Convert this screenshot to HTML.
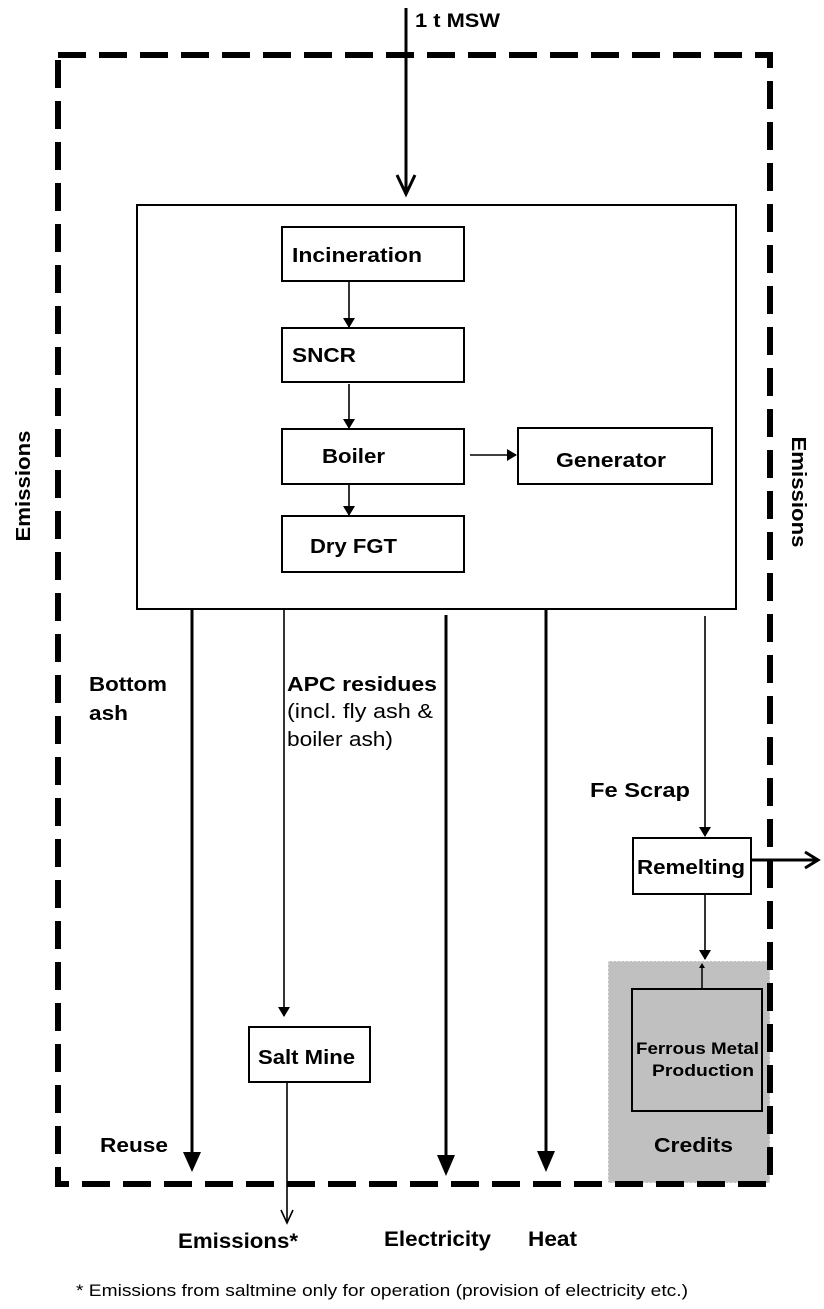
<!DOCTYPE html>
<html><head><style>
body{margin:0;background:#fff;}
svg{display:block;}
text{font-family:"Liberation Sans",Arial,sans-serif;fill:#000;}
.b{font-weight:bold;}
</style></head><body>
<svg width="824" height="1309" viewBox="0 0 824 1309" xmlns="http://www.w3.org/2000/svg">
<defs>
<marker id="big" markerWidth="10" markerHeight="12" refX="9" refY="6" orient="auto" markerUnits="userSpaceOnUse" viewBox="0 0 10 12"><path d="M0,0 L10,6 L0,12 Z" fill="#000"/></marker>
</defs>
<rect x="608" y="961" width="162" height="222" fill="#c0c0c0" stroke="#fff" stroke-dasharray="2,2" stroke-width="1"/>
<rect x="58" y="55" width="712" height="1129" fill="none" stroke="#000" stroke-width="6" stroke-dasharray="28,13"/>
<line x1="406" y1="8" x2="406" y2="192" stroke="#000" stroke-width="3"/>
<polyline points="397,175 406,194 415,175" fill="none" stroke="#000" stroke-width="3"/>
<text x="415" y="27" class="b" font-size="19" textLength="85" lengthAdjust="spacingAndGlyphs">1 t MSW</text>
<rect x="137" y="205" width="599" height="404" fill="#fff" stroke="#000" stroke-width="2"/>
<g fill="#fff" stroke="#000" stroke-width="2">
<rect x="282" y="227" width="182" height="54"/>
<rect x="282" y="328" width="182" height="54"/>
<rect x="282" y="429" width="182" height="55"/>
<rect x="282" y="516" width="182" height="56"/>
<rect x="518" y="428" width="194" height="56"/>
<rect x="633" y="838" width="118" height="56"/>
<rect x="249" y="1027" width="121" height="55"/>
</g>
<rect x="632" y="989" width="130" height="122" fill="#c0c0c0" stroke="#000" stroke-width="2"/>
<g class="b" font-size="20">
<text x="292" y="262" class="b" textLength="130" lengthAdjust="spacingAndGlyphs">Incineration</text>
<text x="292" y="362" class="b" textLength="64" lengthAdjust="spacingAndGlyphs">SNCR</text>
<text x="322" y="463" class="b" textLength="63" lengthAdjust="spacingAndGlyphs">Boiler</text>
<text x="310" y="553" class="b" textLength="87" lengthAdjust="spacingAndGlyphs">Dry FGT</text>
<text x="556" y="467" class="b" textLength="110" lengthAdjust="spacingAndGlyphs">Generator</text>
<text x="637" y="874" class="b" textLength="108" lengthAdjust="spacingAndGlyphs">Remelting</text>
<text x="258" y="1064" class="b" textLength="97" lengthAdjust="spacingAndGlyphs">Salt Mine</text>
</g>
<text x="636" y="1054" class="b" font-size="17" textLength="123" lengthAdjust="spacingAndGlyphs">Ferrous Metal</text>
<text x="652" y="1076" class="b" font-size="17" textLength="102" lengthAdjust="spacingAndGlyphs">Production</text>
<text x="654" y="1152" class="b" font-size="20" textLength="79" lengthAdjust="spacingAndGlyphs">Credits</text>
<g stroke="#000" stroke-width="1.6" marker-end="url(#big)">
<line x1="349" y1="281" x2="349" y2="327"/>
<line x1="349" y1="384" x2="349" y2="428"/>
<line x1="349" y1="484" x2="349" y2="515"/>
<line x1="470" y1="455" x2="516" y2="455"/>
<line x1="284" y1="610" x2="284" y2="1016"/>
<line x1="705" y1="616" x2="705" y2="836"/>
<line x1="705" y1="894" x2="705" y2="959"/>
</g>
<line x1="702" y1="989" x2="702" y2="967" stroke="#000" stroke-width="1.5"/>
<path d="M699,968 L702,963 L705,968 Z" fill="#000"/>
<g stroke="#000" stroke-width="3">
<line x1="192" y1="609" x2="192" y2="1155"/>
<line x1="446" y1="615" x2="446" y2="1158"/>
<line x1="546" y1="609" x2="546" y2="1155"/>
</g>
<g fill="#000">
<path d="M183,1152 L201,1152 L192,1172 Z"/>
<path d="M437,1155 L455,1155 L446,1176 Z"/>
<path d="M537,1151 L555,1151 L546,1172 Z"/>
</g>
<line x1="287" y1="1082" x2="287" y2="1222" stroke="#000" stroke-width="1.6"/>
<polyline points="281,1210 287,1223 293,1210" fill="none" stroke="#000" stroke-width="1.6"/>
<line x1="751" y1="860" x2="817" y2="860" stroke="#000" stroke-width="3"/>
<polyline points="805,852 818,860 805,868" fill="none" stroke="#000" stroke-width="3"/>
<text x="89" y="691" class="b" font-size="20" textLength="78" lengthAdjust="spacingAndGlyphs">Bottom</text>
<text x="89" y="720" class="b" font-size="20" textLength="39" lengthAdjust="spacingAndGlyphs">ash</text>
<text x="287" y="691" class="b" font-size="20" textLength="150" lengthAdjust="spacingAndGlyphs">APC residues</text>
<text x="287" y="718" font-size="20" textLength="146" lengthAdjust="spacingAndGlyphs">(incl. fly ash &amp;</text>
<text x="287" y="746" font-size="20" textLength="106" lengthAdjust="spacingAndGlyphs">boiler ash)</text>
<text x="590" y="797" class="b" font-size="20" textLength="100" lengthAdjust="spacingAndGlyphs">Fe Scrap</text>
<text x="100" y="1152" class="b" font-size="20" textLength="68" lengthAdjust="spacingAndGlyphs">Reuse</text>
<text x="178" y="1248" class="b" font-size="21" textLength="120" lengthAdjust="spacingAndGlyphs">Emissions*</text>
<text x="384" y="1246" class="b" font-size="21" textLength="107" lengthAdjust="spacingAndGlyphs">Electricity</text>
<text x="528" y="1246" class="b" font-size="21" textLength="49" lengthAdjust="spacingAndGlyphs">Heat</text>
<text x="76" y="1296" font-size="17" textLength="612" lengthAdjust="spacingAndGlyphs">* Emissions from saltmine only for operation (provision of electricity etc.)</text>
<text transform="translate(30,486) rotate(-90)" text-anchor="middle" class="b" font-size="20" textLength="111" lengthAdjust="spacingAndGlyphs">Emissions</text>
<text transform="translate(792,492) rotate(90)" text-anchor="middle" class="b" font-size="20" textLength="111" lengthAdjust="spacingAndGlyphs">Emissions</text>
</svg>
</body></html>
